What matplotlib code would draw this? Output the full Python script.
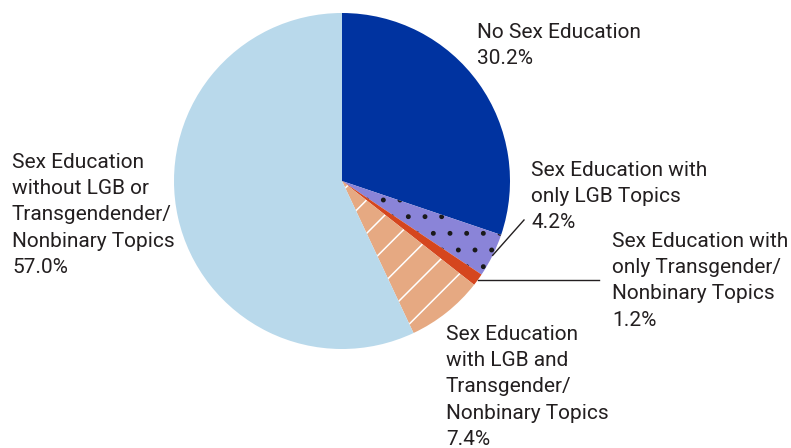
import numpy as np
import matplotlib
matplotlib.use("Agg")
from matplotlib import pyplot as plt

# slice data, clockwise from 12 o'clock
labels = ['No Sex Education',
          'Sex Education with\nonly LGB Topics',
          'Sex Education with\nonly Transgender/\nNonbinary Topics',
          'Sex Education\nwith LGB and\nTransgender/\nNonbinary Topics',
          'Sex Education\nwithout LGB or\nTransgendender/\nNonbinary Topics']
shares = [30.2, 4.2, 1.2, 7.4, 57.0]
colors = ['#0033a0', '#8a84d8', '#d5461e', '#e6a982', '#b9d9eb']
hatches = [None, '.', None, '/', None]
hatch_colors = [None, '#1a1a1a', None, 'white', None]

plt.rcParams['hatch.linewidth'] = 1.1
W, H = 791, 448
fig = plt.figure(figsize=(W / 100, H / 100), dpi=100)

cx, cy, r = 342, 181, 168
ax = fig.add_axes([(cx - r) / W, (H - cy - r) / H, 2 * r / W, 2 * r / H])
wedges, _ = ax.pie(shares, colors=colors, startangle=90, counterclock=False,
                   radius=1, wedgeprops=dict(linewidth=0))
for w, h, hc in zip(wedges, hatches, hatch_colors):
    if h:
        w.set_hatch(h)
        w.set_edgecolor(hc)
        w.set_linewidth(0)
ax.set_xlim(-1, 1)
ax.set_ylim(-1, 1)
ax.set_aspect('equal')
ax.axis('off')

font = dict(family=['Roboto', 'DejaVu Sans'],
            size=15, color='#231f20', linespacing=1.48, va='top', ha='left')

# label anchor (left, cap top) in pixels
label_pos = [(477, 23), (531, 161), (612, 232), (446, 325), (12, 153)]
for lab, s, (px, py) in zip(labels, shares, label_pos):
    fig.text(px / W, 1 - py / H, f'{lab}\n{s:.1f}%', **font)


def edge_point(i):
    # mid-angle point on the rim of wedge i
    w = wedges[i]
    a = np.deg2rad((w.theta1 + w.theta2) / 2)
    return np.cos(a), np.sin(a)


def px_to_data(px, py):
    return (px - cx) / r, (cy - py) / r


# leader lines
x0, y0 = edge_point(1)
x1, y1 = px_to_data(524, 220)
ax.plot([x0, x1], [y0, y1], color='#231f20', lw=1, clip_on=False)
x0, y0 = edge_point(2)
x1, _ = px_to_data(599, 278)
ax.plot([x0, x1], [y0, y0], color='#231f20', lw=1, clip_on=False)

fig.savefig('out.png', dpi=100)
